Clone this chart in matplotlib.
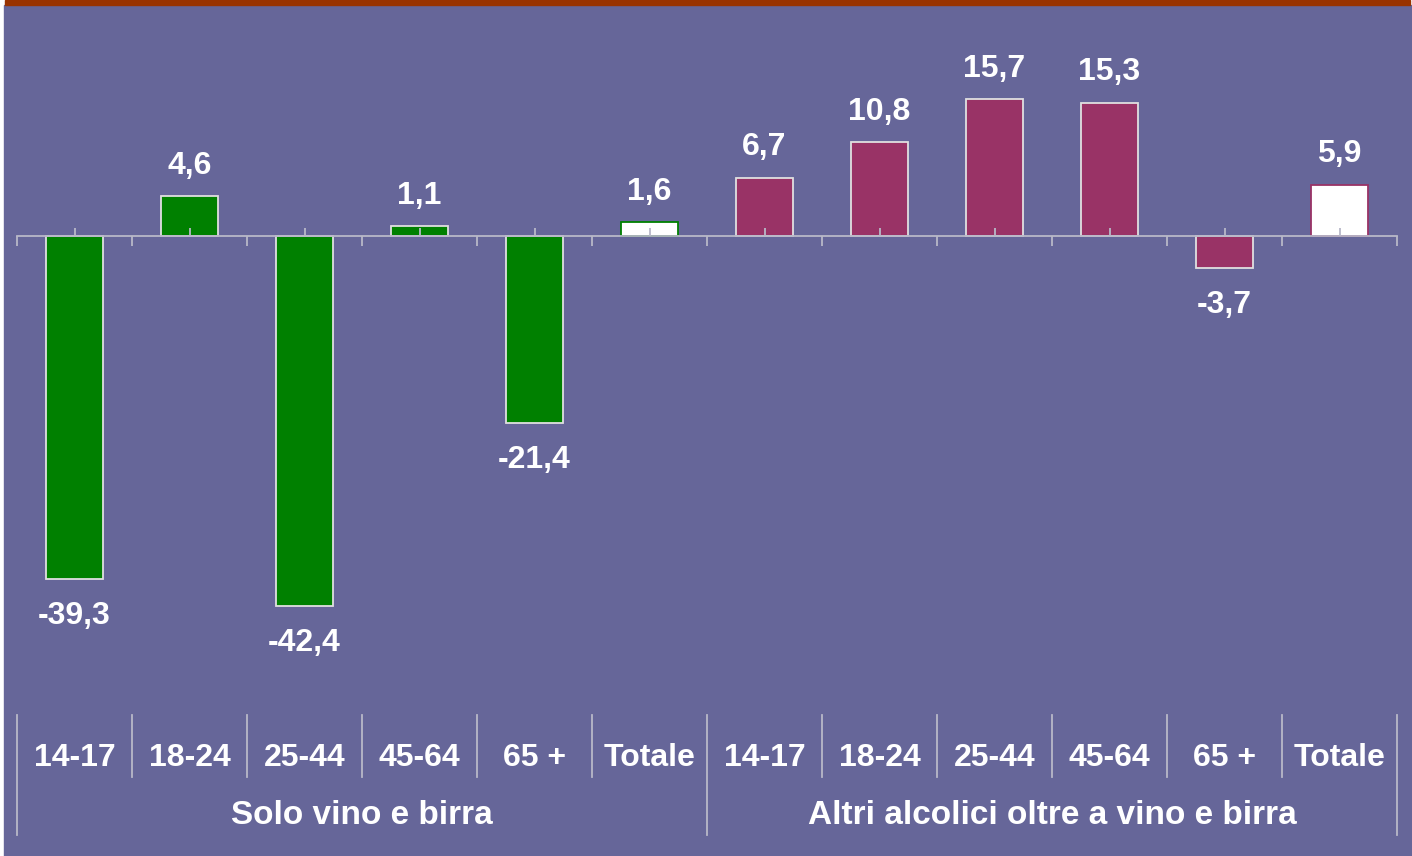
import numpy as np
import matplotlib
matplotlib.use("Agg")
import matplotlib.pyplot as plt
from matplotlib.patches import Rectangle
from matplotlib.lines import Line2D
from matplotlib.transforms import blended_transform_factory

# ---------------------------------------------------------------------------
# Data
# ---------------------------------------------------------------------------
groups = ["Solo vino e birra", "Altri alcolici oltre a vino e birra"]
ages = ["14-17", "18-24", "25-44", "45-64", "65 +", "Totale"]
solo_vals = [-39.3, 4.6, -42.4, 1.1, -21.4, 1.6]
altri_vals = [6.7, 10.8, 15.7, 15.3, -3.7, 5.9]

# ---------------------------------------------------------------------------
# Style
# ---------------------------------------------------------------------------
BG = "#666699"
GREEN = "#008000"
MAROON = "#993366"
BORDER = "#993300"
GRID = "#b8b8c8"
W, H = 1412, 856

plt.rcParams["font.family"] = ["Liberation Sans", "DejaVu Sans"]

fig = plt.figure(figsize=(W / 100, H / 100), dpi=100, facecolor="white")
fig.patches.append(Rectangle((4 / W, 0), (1411 - 4) / W, (H - 5) / H,
                             transform=fig.transFigure, color=BG, zorder=-2))
fig.patches.append(Rectangle((5 / W, 1 - 4.5 / H), (1410 - 5) / W, 4.5 / H,
                             transform=fig.transFigure, color=BORDER, zorder=-2))

# axis line sits at 236 px from top, 8.72 px per unit
px_per_unit = 8.72
y_top = (236 - 5) / px_per_unit
y_bot = -(H - 236) / px_per_unit
ax = fig.add_axes([17 / W, 0, 1380 / W, (H - 5) / H])
ax.set_facecolor("none")
ax.set_xlim(-0.5, 11.5)
ax.set_ylim(y_bot, y_top)

values = solo_vals + altri_vals
n = len(ages)
x = np.arange(len(values))
fills, edges = [], []
for i in range(len(values)):
    base = GREEN if i < n else MAROON
    if ages[i % n] == "Totale":
        fills.append("white")
        edges.append(base)
    else:
        fills.append(base)
        edges.append("#e0e0e0")

ax.bar(x, values, width=0.5, color=fills, edgecolor=edges, linewidth=1.3, zorder=1)

for xi, v in zip(x, values):
    lab = f"{v:.1f}".replace(".", ",")
    if v >= 0:
        ax.annotate(lab, (xi, v), xytext=(0, 16), textcoords="offset points",
                    ha="center", va="baseline", color="white", fontsize=23,
                    fontweight="bold")
    else:
        ax.annotate(lab, (xi, v), xytext=(0, -16), textcoords="offset points",
                    ha="center", va="top", color="white", fontsize=23,
                    fontweight="bold")

# axis with ticks at boundaries (down) and centers (up)
for s in ["left", "right", "top"]:
    ax.spines[s].set_visible(False)
ax.spines["bottom"].set_position(("data", 0))
ax.spines["bottom"].set_color(GRID)
ax.spines["bottom"].set_linewidth(1.3)
ax.set_axisbelow(False)
ax.set_yticks([])
ax.set_xticks(np.arange(-0.5, 12, 1))
ax.set_xticklabels([])
ax.set_xticks(x, minor=True)
ax.tick_params(axis="x", which="major", direction="out", length=7.2,
               width=1.3, color=GRID)
ax.tick_params(axis="x", which="minor", direction="in", length=5.8,
               width=1.3, color=GRID)

# multi-level category labels at the bottom
tr = blended_transform_factory(ax.transData, fig.transFigure)
for xi in x:
    ax.text(xi, 1 - 758 / H, ages[xi % n], transform=tr, ha="center",
            va="center", color="white", fontsize=23, fontweight="bold")
for g, name in enumerate(groups):
    ax.text(g * n + (n - 1) / 2, 1 - 816 / H, name, transform=tr, ha="center",
            va="center", color="white", fontsize=24, fontweight="bold")

for b in np.arange(-0.5, 12, 1):
    outer = b in (-0.5, n - 0.5, 2 * n - 0.5)
    y0 = 1 - (835 if outer else 777) / H
    ax.add_line(Line2D([b, b], [1 - 715 / H, y0], transform=tr, color=GRID,
                       linewidth=1.3, clip_on=False))

fig.savefig("out.png", dpi=100, facecolor=fig.get_facecolor())
